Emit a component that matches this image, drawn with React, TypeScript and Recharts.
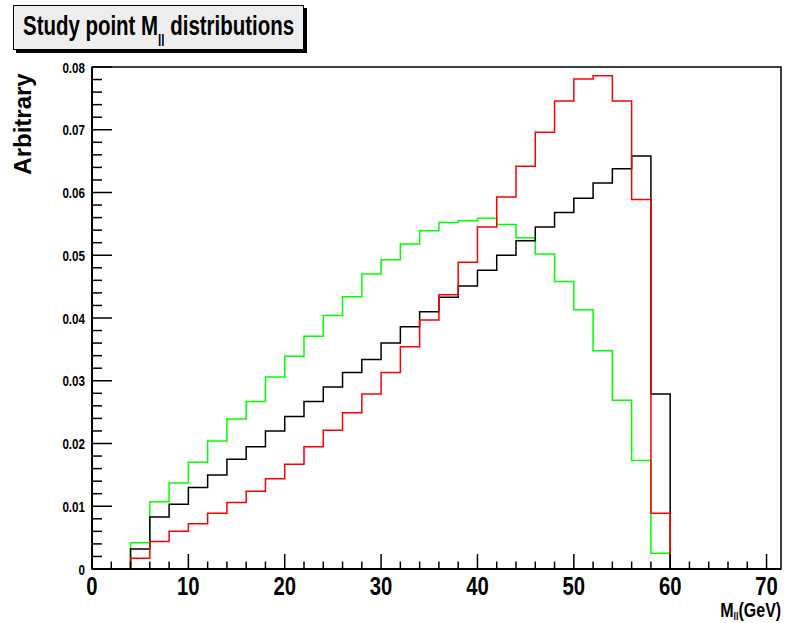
import { LineChart, Line, XAxis, YAxis, ReferenceArea } from 'recharts'

// lower bin edges (GeV), last entry closes the histogram range
const binEdges = [
  0, 2, 4, 6, 8, 10, 12, 14, 16, 18, 20, 22, 24, 26, 28, 30, 32, 34, 36, 38,
  40, 42, 44, 46, 48, 50, 52, 54, 56, 58, 60, 62, 64, 66, 68, 70, 71.5,
]

const greenValues = [
  0, 0, 0.0042, 0.0107, 0.0137, 0.017, 0.0204, 0.0239, 0.0267, 0.0306, 0.0339,
  0.0371, 0.0404, 0.0434, 0.047, 0.0493, 0.0518, 0.0539, 0.0552, 0.0555, 0.0559,
  0.0549, 0.0528, 0.0502, 0.0458, 0.0413, 0.0348, 0.0269, 0.0173, 0.0025,
  0, 0, 0, 0, 0, 0, 0,
]

const blackValues = [
  0, 0, 0.0032, 0.0083, 0.0103, 0.013, 0.015, 0.0175, 0.0195, 0.022, 0.0243,
  0.0267, 0.029, 0.0313, 0.0334, 0.036, 0.0386, 0.041, 0.0433, 0.0451, 0.0476,
  0.05, 0.0523, 0.0545, 0.0568, 0.0591, 0.0615, 0.0638, 0.0658, 0.0279,
  0, 0, 0, 0, 0, 0, 0,
]

const redValues = [
  0, 0, 0.0017, 0.0044, 0.006, 0.0072, 0.0089, 0.0106, 0.0124, 0.0144, 0.0167,
  0.0195, 0.0221, 0.0249, 0.0279, 0.0313, 0.0354, 0.0397, 0.0437, 0.0489, 0.0545,
  0.0593, 0.0642, 0.0696, 0.0746, 0.0781, 0.0786, 0.0746, 0.0589, 0.0089,
  0, 0, 0, 0, 0, 0, 0,
]

const xTicks = [
  0, 2, 4, 6, 8, 10, 12, 14, 16, 18, 20, 22, 24, 26, 28, 30, 32, 34, 36, 38,
  40, 42, 44, 46, 48, 50, 52, 54, 56, 58, 60, 62, 64, 66, 68, 70,
]
const yTicks = [
  0, 0.002, 0.004, 0.006, 0.008, 0.01, 0.012, 0.014, 0.016, 0.018, 0.02, 0.022,
  0.024, 0.026, 0.028, 0.03, 0.032, 0.034, 0.036, 0.038, 0.04, 0.042, 0.044,
  0.046, 0.048, 0.05, 0.052, 0.054, 0.056, 0.058, 0.06, 0.062, 0.064, 0.066,
  0.068, 0.07, 0.072, 0.074, 0.076, 0.078, 0.08,
]

const data = binEdges.map((x, i) => ({
  x,
  green: greenValues[i],
  black: blackValues[i],
  red: redValues[i],
}))

const sans = "'Liberation Sans', Arial, Helvetica, sans-serif"

function XTick(props: any) {
  const { x, y, payload } = props
  const v = payload.value
  const major = v % 10 === 0
  return (
    <g>
      <line x1={x} x2={x} y1={y} y2={y - (major ? 15 : 7.5)} stroke="#000" strokeWidth={1.5} />
      {major && (
        <text
          transform={`translate(${x},${y + 26}) scale(0.78,1)`}
          textAnchor="middle" fontFamily={sans} fontWeight="bold" fontSize={26} fill="#000"
        >
          {v}
        </text>
      )}
    </g>
  )
}

function YTick(props: any) {
  const { x, y, payload } = props
  const v = payload.value
  const major = Math.round(v * 1000) % 10 === 0
  return (
    <g>
      <line x1={x} x2={x + (major ? 20 : 10)} y1={y} y2={y} stroke="#000" strokeWidth={1.5} />
      {major && (
        <text
          transform={`translate(${x - 7},${y + 5.5}) scale(0.75,1)`}
          textAnchor="end" fontFamily={sans} fontWeight="bold" fontSize={15.5} fill="#000"
        >
          {v === 0 ? '0' : v.toFixed(2)}
        </text>
      )}
    </g>
  )
}

export default function App() {
  return (
    <div style={{ position: 'absolute', left: 0, top: 0, width: 786, height: 623, background: '#fff' }}>
      <LineChart width={786} height={623} data={data} margin={{ top: 67, right: 5, bottom: 0, left: 0 }}>
        <XAxis
          dataKey="x"
          type="number"
          domain={[0, 71.5]}
          ticks={xTicks}
          interval={0}
          tickSize={0}
          tickMargin={0}
          tick={<XTick />}
          height={54}
          axisLine={{ stroke: '#000', strokeWidth: 2 }}
        />
        <YAxis
          type="number"
          domain={[0, 0.08]}
          ticks={yTicks}
          interval={0}
          tickSize={0}
          tickMargin={0}
          tick={<YTick />}
          width={92}
          axisLine={{ stroke: '#000', strokeWidth: 2 }}
        />
        <ReferenceArea x1={0} x2={71.5} y1={0} y2={0.08} fill="none" stroke="#000" strokeWidth={1.5} />
        <Line type="stepAfter" dataKey="green" stroke="#00ff00" strokeWidth={1.5} dot={false} isAnimationActive={false} />
        <Line type="stepAfter" dataKey="black" stroke="#000" strokeWidth={1.5} dot={false} isAnimationActive={false} />
        <Line type="stepAfter" dataKey="red" stroke="#ff0000" strokeWidth={1.5} dot={false} isAnimationActive={false} />
      </LineChart>
      <div
        style={{
          position: 'absolute', left: 13, top: 5, width: 291, height: 45,
          background: '#eeeeee', border: '1px solid #000', boxShadow: '3px 3px 0 #000',
          boxSizing: 'border-box', overflow: 'hidden',
        }}
      >
        <div
          style={{
            position: 'absolute', left: 9, top: 1, transform: 'scaleX(0.73)', transformOrigin: 'left top',
            fontFamily: sans, fontWeight: 'bold', fontSize: 28, lineHeight: '38px', color: '#000', whiteSpace: 'nowrap',
          }}
        >
          Study point M<sub style={{ fontSize: 16, verticalAlign: '-11px', lineHeight: 0 }}>ll</sub> distributions
        </div>
      </div>
      <div
        style={{
          position: 'absolute', left: 23, top: 124, transform: 'translate(-50%, -50%) rotate(-90deg)',
          fontFamily: sans, fontWeight: 'bold', fontSize: 24, color: '#000', whiteSpace: 'nowrap',
        }}
      >
        Arbitrary
      </div>
      <div
        style={{
          position: 'absolute', right: 5, top: 602, transform: 'scaleX(0.8)', transformOrigin: 'right top',
          fontFamily: sans, fontWeight: 'bold', fontSize: 20, lineHeight: '17px', color: '#000', whiteSpace: 'nowrap',
        }}
      >
        M<sub style={{ fontSize: 11, verticalAlign: '-3px', lineHeight: 0 }}>ll</sub>(GeV)
      </div>
    </div>
  )
}
